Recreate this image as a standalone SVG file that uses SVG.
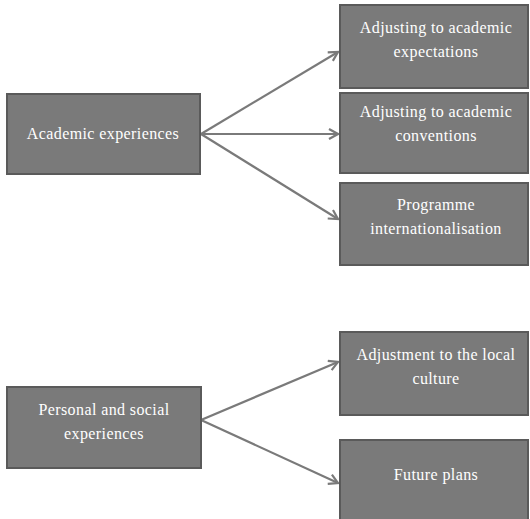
<svg xmlns="http://www.w3.org/2000/svg" width="530" height="519" viewBox="0 0 530 519">
<style>
.box{fill:#7a7a7a;stroke:#5a5a5a;stroke-width:2}
.t{font-family:'Liberation Serif','Times New Roman',serif;font-size:16px;fill:#ffffff;text-anchor:middle;letter-spacing:0.4px}
.c{stroke:#7a7a7a;stroke-width:2.2;fill:none}
.ah{stroke:#7a7a7a;stroke-width:2.2;fill:none}
</style>
<defs>
<marker id="arr" markerWidth="12" markerHeight="12" refX="10" refY="6" orient="auto" markerUnits="userSpaceOnUse">
<path d="M1,1 L10,6 L1,11" class="ah"/>
</marker>
</defs>
<rect width="530" height="519" fill="#ffffff"/>
<g id="connectors">
<line class="c" x1="201" y1="134" x2="338" y2="52" marker-end="url(#arr)"/>
<line class="c" x1="201" y1="134" x2="338" y2="134" marker-end="url(#arr)"/>
<line class="c" x1="201" y1="134" x2="338" y2="219" marker-end="url(#arr)"/>
<line class="c" x1="201" y1="420" x2="338" y2="362" marker-end="url(#arr)"/>
<line class="c" x1="201" y1="420" x2="338" y2="483" marker-end="url(#arr)"/>
</g>
<g id="academic">
<rect class="box" x="7" y="94" width="193" height="80"/>
<text class="t" x="103" y="139">Academic experiences</text>
</g>
<g id="expectations">
<rect class="box" x="340" y="5" width="188" height="83"/>
<text class="t" x="436" y="33">Adjusting to academic</text>
<text class="t" x="436" y="57">expectations</text>
</g>
<g id="conventions">
<rect class="box" x="340" y="93" width="188" height="80"/>
<text class="t" x="436" y="117">Adjusting to academic</text>
<text class="t" x="436" y="141">conventions</text>
</g>
<g id="internationalisation">
<rect class="box" x="340" y="183" width="188" height="82"/>
<text class="t" x="436" y="210">Programme</text>
<text class="t" x="436" y="234">internationalisation</text>
</g>
<g id="personal">
<rect class="box" x="7" y="387" width="194" height="81"/>
<text class="t" x="104" y="415">Personal and social</text>
<text class="t" x="104" y="439">experiences</text>
</g>
<g id="culture">
<rect class="box" x="340" y="332" width="188" height="83"/>
<text class="t" x="436" y="360">Adjustment to the local</text>
<text class="t" x="436" y="384">culture</text>
</g>
<g id="future">
<rect class="box" x="340" y="440" width="188" height="82"/>
<text class="t" x="436" y="480">Future plans</text>
</g>
</svg>
